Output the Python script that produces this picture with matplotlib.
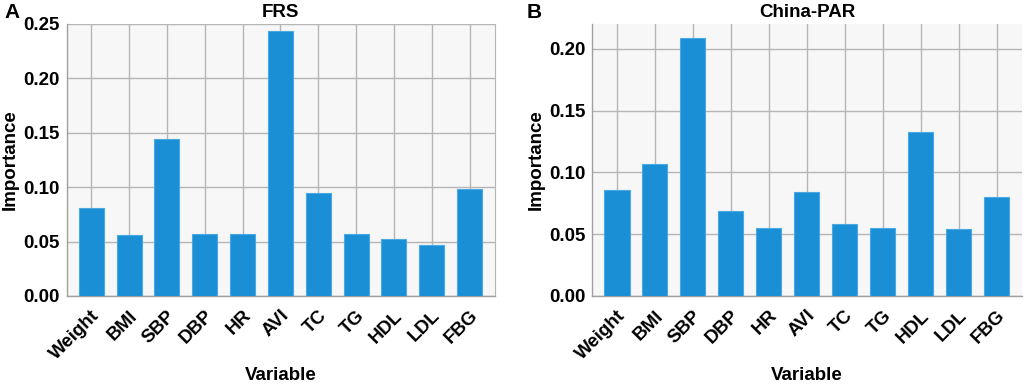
import matplotlib
matplotlib.use("Agg")
import matplotlib.pyplot as plt
import numpy as np

plt.rcParams['font.family'] = ['Liberation Sans', 'DejaVu Sans']
plt.rcParams['font.weight'] = 'bold'

variables = ["Weight", "BMI", "SBP", "DBP", "HR", "AVI", "TC", "TG", "HDL", "LDL", "FBG"]
frs_importance = [0.081, 0.056, 0.144, 0.057, 0.057, 0.244, 0.095, 0.057, 0.052, 0.047, 0.098]
chinapar_importance = [0.086, 0.107, 0.209, 0.069, 0.055, 0.084, 0.058, 0.055, 0.133, 0.054, 0.080]
frs_yticks = [0.00, 0.05, 0.10, 0.15, 0.20, 0.25]
chinapar_yticks = [0.00, 0.05, 0.10, 0.15, 0.20]

W, H = 1026, 384
fig = plt.figure(figsize=(W / 100, H / 100), dpi=100)

bar_color = "#1a8fd6"
edge_color = "#4aa8e3"
grid_color = "#b5b5b5"
bg = "#f7f7f7"


def make_panel(rect, values, yticks, ylim, title, letter, letter_x, right_spine):
    ax = fig.add_axes(rect)
    ax.set_facecolor(bg)
    x = np.arange(len(variables))
    ax.bar(x, values, width=0.66, color=bar_color, edgecolor=edge_color, linewidth=0.8, zorder=3)
    ax.set_xlim(-0.65, len(variables) - 1 + 0.67)
    ax.set_ylim(*ylim)
    ax.set_yticks(yticks)
    ax.set_yticklabels([f"{v:.2f}" for v in yticks], fontsize=13.5, fontweight='bold')
    ax.set_xticks(x)
    ax.set_xticklabels(variables, rotation=45, ha='right', rotation_mode='anchor',
                       fontsize=13.5, fontweight='bold')
    ax.tick_params(axis='both', length=0, pad=5)
    ax.tick_params(axis='x', pad=8)
    ax.grid(True, color=grid_color, linewidth=1.0, zorder=0)
    ax.set_axisbelow(True)
    for s in ['left', 'bottom']:
        ax.spines[s].set_color("#a0a0a0")
        ax.spines[s].set_linewidth(1.0)
    ax.spines['top'].set_visible(False)
    if right_spine:
        ax.spines['right'].set_color("#b5b5b5")
    else:
        ax.spines['right'].set_visible(False)
    ax.set_xlabel("Variable", fontsize=13.5, fontweight='bold', va='center')
    ax.xaxis.set_label_coords(0.5, -(375 - 296) / 272)
    ax.set_ylabel("Importance", fontsize=13.5, fontweight='bold', labelpad=3)
    ax.set_title(title, fontsize=13.5, fontweight='bold', pad=5)
    fig.text(letter_x, 1 - 12 / H, letter, fontsize=15, fontweight='bold', va='center', ha='left')
    return ax


ax1 = make_panel([66.7 / W, 1 - 296 / H, (495 - 66.7) / W, (296 - 24) / H],
                 frs_importance, frs_yticks, (0, 0.25), "FRS", "A", 4 / W, True)
ax2 = make_panel([592.3 / W, 1 - 296 / H, (1022 - 592.3) / W, (296 - 24) / H],
                 chinapar_importance, chinapar_yticks, (0, 0.22), "China-PAR", "B", 527 / W, False)

fig.savefig("out.png", dpi=100)
